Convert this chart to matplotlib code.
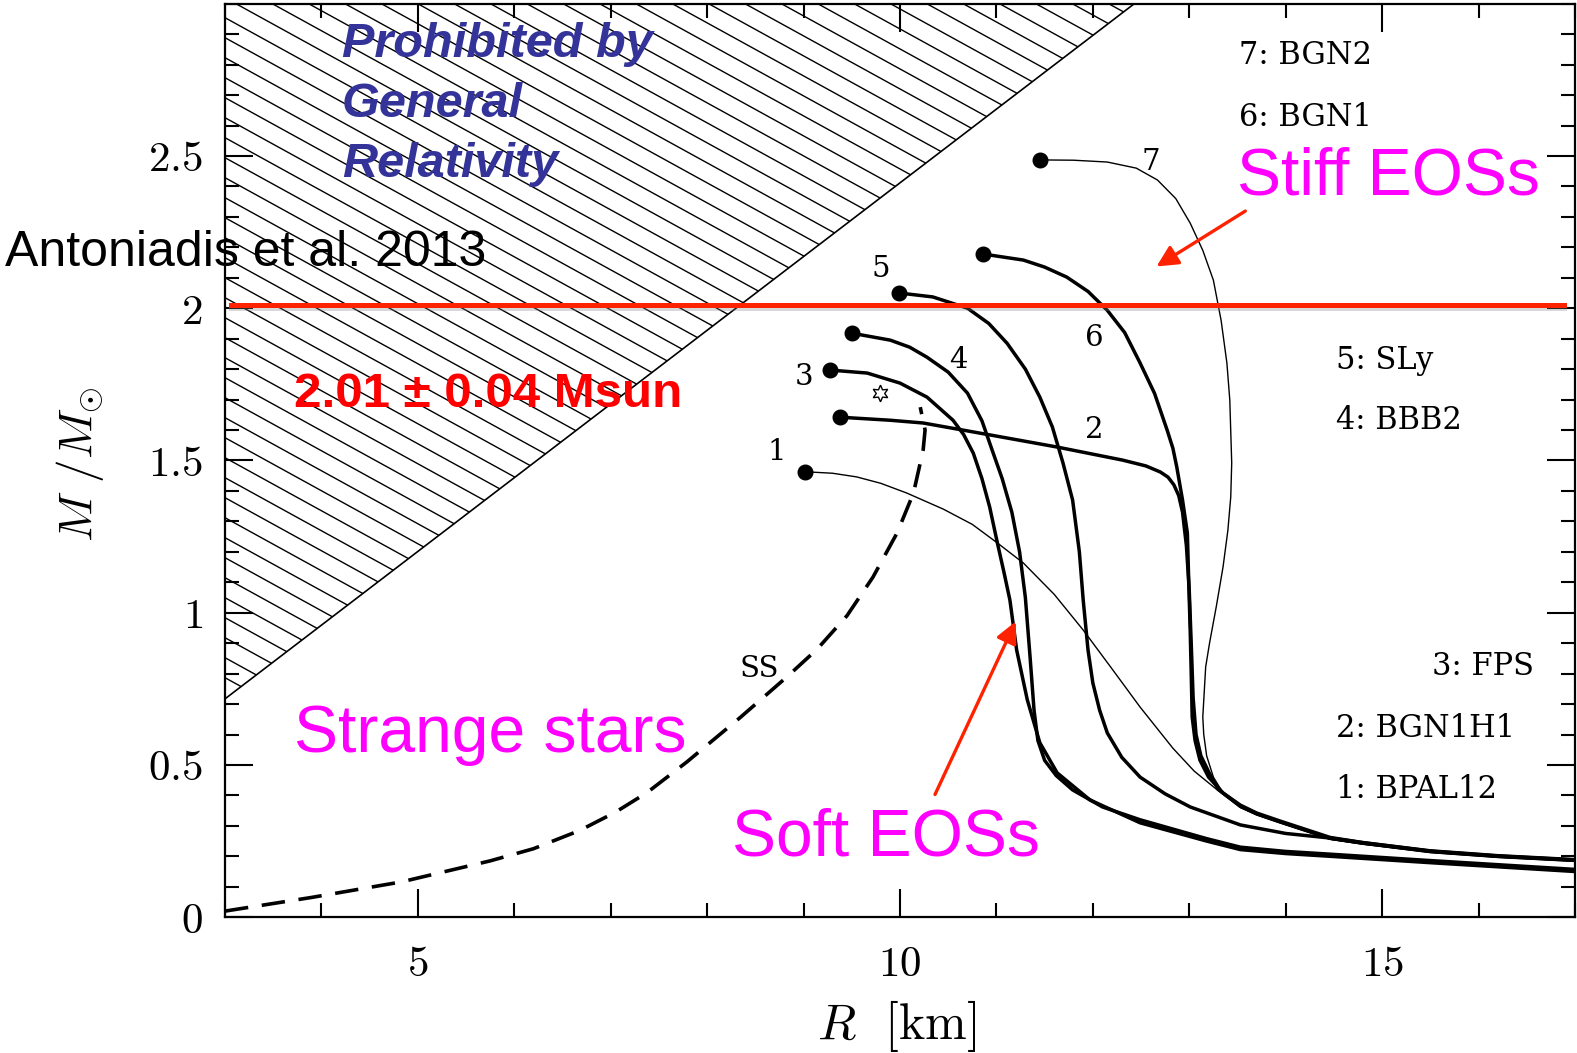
import numpy as np
import matplotlib
matplotlib.use("Agg")
import matplotlib.pyplot as plt
import matplotlib.patheffects as pe
from matplotlib.patches import Polygon
from matplotlib.ticker import MultipleLocator, FuncFormatter

plt.rcParams["mathtext.fontset"] = "cm"
plt.rcParams["font.family"] = ["Liberation Sans", "DejaVu Sans"]

# ---- mass-radius relations (R in km, M in solar masses) ----
R1 = [9.01, 9.30, 9.55, 9.80, 10.07, 10.45, 10.75, 11.01, 11.28, 11.60, 11.90, 12.20, 12.49, 12.83, 13.05, 13.29,
      13.53, 13.70, 13.94, 14.20, 14.46, 14.80, 15.50, 16.20, 17.0]
M1 = [1.463, 1.458, 1.446, 1.425, 1.393, 1.340, 1.290, 1.229, 1.163, 1.060, 0.943, 0.815, 0.690, 0.555, 0.480, 0.418,
      0.360, 0.336, 0.310, 0.283, 0.256, 0.240, 0.212, 0.196, 0.183]

R2 = [9.38, 9.90, 10.24, 10.93, 11.63, 12.31, 12.55, 12.70, 12.78, 12.84, 12.89, 12.93, 12.97, 13.00, 13.02, 13.04,
      13.07, 13.12, 13.20, 13.30, 13.53, 13.70, 13.94, 14.20, 14.46, 14.80, 15.50, 16.20, 17.0]
M2 = [1.642, 1.632, 1.623, 1.584, 1.544, 1.501, 1.482, 1.462, 1.445, 1.420, 1.385, 1.330, 1.220, 1.070, 0.900, 0.720,
      0.600, 0.530, 0.478, 0.420, 0.364, 0.339, 0.313, 0.286, 0.259, 0.243, 0.216, 0.200, 0.187]

R3 = [9.27, 9.66, 10.00, 10.28, 10.55, 10.66, 10.76, 10.85, 10.93, 11.01, 11.08, 11.14, 11.21, 11.32, 11.45, 11.63,
      11.97, 12.49, 13.18, 13.53, 14.00, 14.46, 15.50, 17.0]
M3 = [1.797, 1.787, 1.754, 1.708, 1.632, 1.585, 1.524, 1.440, 1.347, 1.229, 1.130, 1.041, 0.877, 0.714, 0.573, 0.474,
      0.385, 0.310, 0.250, 0.222, 0.209, 0.200, 0.179, 0.150]

R4 = [9.50, 9.90, 10.10, 10.28, 10.50, 10.70, 10.85, 10.96, 11.06, 11.16, 11.24, 11.30, 11.35, 11.39, 11.43, 11.50,
      11.62, 11.79, 12.10, 12.49, 13.18, 13.53, 14.00, 14.46, 15.50, 17.0]
M4 = [1.918, 1.895, 1.872, 1.839, 1.790, 1.721, 1.630, 1.530, 1.440, 1.330, 1.200, 1.050, 0.850, 0.680, 0.580, 0.515,
      0.465, 0.418, 0.362, 0.320, 0.258, 0.230, 0.216, 0.207, 0.186, 0.157]

R5 = [9.99, 10.34, 10.70, 10.92, 11.11, 11.30, 11.45, 11.58, 11.69, 11.79, 11.86, 11.90, 11.95, 12.00, 12.07, 12.15,
      12.30, 12.49, 12.75, 13.01, 13.53, 14.00, 14.46, 14.80, 15.50, 16.20, 17.0]
M5 = [2.050, 2.037, 2.000, 1.950, 1.885, 1.800, 1.708, 1.610, 1.492, 1.370, 1.200, 1.041, 0.877, 0.769, 0.680, 0.605,
      0.525, 0.460, 0.405, 0.362, 0.303, 0.275, 0.260, 0.245, 0.217, 0.201, 0.188]

R6 = [10.86, 11.28, 11.50, 11.73, 11.95, 12.15, 12.33, 12.49, 12.64, 12.77, 12.83, 12.87, 12.93, 12.98, 12.99, 13.01,
      13.02, 13.03, 13.06, 13.11, 13.20, 13.35, 13.53, 13.70, 13.94, 14.20, 14.46, 14.80, 15.50, 16.20, 17.0]
M6 = [2.178, 2.158, 2.135, 2.102, 2.055, 1.993, 1.920, 1.820, 1.720, 1.600, 1.540, 1.479, 1.370, 1.262, 1.150, 0.934,
      0.800, 0.657, 0.580, 0.516, 0.460, 0.408, 0.368, 0.342, 0.316, 0.289, 0.262, 0.245, 0.218, 0.202, 0.189]

R7 = [11.45, 11.80, 12.15, 12.45, 12.67, 12.86, 13.01, 13.14, 13.25, 13.33, 13.39, 13.42, 13.44, 13.43, 13.40, 13.35,
      13.28, 13.21, 13.17, 13.14, 13.15, 13.18, 13.25, 13.35, 13.53, 13.70, 13.94, 14.20, 14.46, 14.80, 15.50, 16.20, 17.0]
M7 = [2.487, 2.486, 2.480, 2.460, 2.421, 2.360, 2.279, 2.190, 2.092, 1.960, 1.820, 1.699, 1.492, 1.380, 1.270, 1.150,
      1.020, 0.900, 0.822, 0.657, 0.600, 0.530, 0.460, 0.408, 0.362, 0.337, 0.311, 0.284, 0.256, 0.240, 0.214, 0.198, 0.185]

# strange-star sequence
R_ss = [3.0, 3.9, 4.83, 5.75, 6.20, 6.68, 7.05, 7.38, 7.79, 8.34, 8.83, 9.14, 9.45, 9.72, 9.97, 10.14, 10.24, 10.26, 10.21]
M_ss = [0.02, 0.065, 0.116, 0.185, 0.225, 0.285, 0.345, 0.410, 0.510, 0.655, 0.790, 0.880, 0.990, 1.117, 1.262, 1.393,
        1.534, 1.600, 1.675]
star_R, star_M = 9.79, 1.722

# causality limit bounding the forbidden region
limit_R = [3.0, 12.43]
limit_M = [0.717, 3.0]

# measured pulsar mass
m_obs = 2.01

eos_names = ["7: BGN2", "6: BGN1", "5: SLy", "4: BBB2", "3: FPS", "2: BGN1H1", "1: BPAL12"]
eos_name_pos = [(13.516, 2.802), (13.516, 2.598), (14.517, 1.800), (14.517, 1.602),
                (15.517, 0.794), (14.517, 0.592), (14.517, 0.393)]

x_ticks = [5, 10, 15]
y_ticks = [0, 0.5, 1, 1.5, 2, 2.5]

# ---- figure ----
W, H = 1577, 1053
fig = plt.figure(figsize=(W / 100, H / 100), dpi=100)
ax = fig.add_axes([225 / W, 1 - 917.2 / H, 1350 / W, (917.2 - 3.7) / H])
ax.set_xlim(3, 17)
ax.set_ylim(0, 3)

# forbidden region with a custom oblique hatching
poly = Polygon([(limit_R[0], limit_M[0]), (limit_R[1], limit_M[1]), (3.0, 3.0)],
               closed=True, facecolor="none", edgecolor="none")
ax.add_patch(poly)
hatch_slope = -0.55 * (96.43 / 304.5)   # 0.55 px/px downward
hatch_step = 20.0 / 304.5
rr = np.array([3.0, 13.0])
for c in np.arange(3.0 + 0.3 * hatch_step - 40 * hatch_step, 4.8, hatch_step):
    ln, = ax.plot(rr, c + hatch_slope * (rr - 3.0), color="black", lw=1.0, zorder=1)
    ln.set_clip_path(poly)
ax.plot(limit_R, limit_M, color="black", lw=1.2, zorder=2)

# EOS curves
thick = dict(color="black", lw=2.5, solid_joinstyle="round", zorder=3)
thin = dict(color="black", lw=1.0, solid_joinstyle="round", zorder=3)
curves = [(R1, M1, thin), (R2, M2, thick), (R3, M3, thick), (R4, M4, thick),
          (R5, M5, thick), (R6, M6, thick), (R7, M7, thin)]
for R, M, st in curves:
    ax.plot(R, M, **st)
    ax.plot(R[0], M[0], "o", ms=10.5, color="black", zorder=4)

ax.plot(R_ss, M_ss, color="black", lw=2.6, linestyle=(0, (6.5, 3.8)), zorder=3)
ax.plot(star_R, star_M, marker=(6, 1, 0), ms=12, mfc="white", mec="black", mew=1.0, zorder=4)

# curve numbers
serif = ["DejaVu Serif"]
num_labels = [("7", 12.60, 2.454), ("5", 9.80, 2.101), ("6", 12.01, 1.876), ("4", 10.61, 1.804),
              ("3", 9.01, 1.748), ("2", 12.01, 1.573), ("1", 8.72, 1.500), ("SS", 8.54, 0.79)]
for s, x, y in num_labels:
    ax.text(x, y, s, family=serif, fontsize=21, ha="center", va="baseline", zorder=5)

for s, (x, y) in zip(eos_names, eos_name_pos):
    ax.text(x, y, s, family=serif, fontsize=22, ha="left", va="baseline", zorder=5)

# observed 2 Msun line
ax.axhline(m_obs, xmin=6 / 1350, xmax=1339 / 1350, color="#ff2200", lw=3.6, zorder=6,
           path_effects=[pe.SimpleLineShadow(offset=(0, -1.8), shadow_color="gray", alpha=0.3),
                         pe.Normal()])

# annotations
blue = "#333399"
for s, y in [("Prohibited by", 2.824), ("General", 2.629), ("Relativity", 2.431)]:
    ax.text(4.213, y, s, color=blue, fontsize=35, fontweight="bold", fontstyle="italic",
            ha="left", va="baseline", zorder=5)

ax.text(3.712, 1.675, "2.01 \u00b1 0.04 Msun", color="#ff0000", fontsize=35.5, fontweight="bold",
        ha="left", va="baseline", zorder=5)
fig.text(5 / W, 1 - 265.5 / H, "Antoniadis et al. 2013", color="black", fontsize=36,
         ha="left", va="baseline")

mag = "#ff00ff"
ax.text(13.495, 2.375, "Stiff EOSs", color=mag, fontsize=47.5, ha="left", va="baseline", zorder=5)
ax.text(3.712, 0.543, "Strange stars", color=mag, fontsize=47.5, ha="left", va="baseline", zorder=5)
ax.text(8.258, 0.202, "Soft EOSs", color=mag, fontsize=47.5, ha="left", va="baseline", zorder=5)

arrow = dict(arrowstyle="-|>", color="#ff2200", lw=2.4, mutation_scale=32, shrinkA=0, shrinkB=0)
ax.annotate("", xy=(12.66, 2.137), xytext=(13.581, 2.319), arrowprops=arrow, zorder=6)
ax.annotate("", xy=(11.20, 0.971), xytext=(10.363, 0.403), arrowprops=arrow, zorder=6)

# axes styling
for sp in ax.spines.values():
    sp.set_linewidth(1.6)
ax.xaxis.set_major_locator(MultipleLocator(5))
ax.xaxis.set_minor_locator(MultipleLocator(1))
ax.yaxis.set_major_locator(MultipleLocator(0.5))
ax.yaxis.set_minor_locator(MultipleLocator(0.1))
ax.set_xticks(x_ticks)
ax.set_yticks(y_ticks)
fmt = FuncFormatter(lambda v, p: f"${v:g}$")
ax.xaxis.set_major_formatter(fmt)
ax.yaxis.set_major_formatter(fmt)
ax.tick_params(which="both", direction="in", top=True, right=True, width=1.5)
ax.tick_params(which="major", length=20, labelsize=31)
ax.tick_params(which="minor", length=10)
ax.tick_params(axis="x", which="major", pad=20)
ax.tick_params(axis="y", which="major", pad=16)

fig.text(80.5 / W, 1 - 464.6 / H, r"$M\ /M_{\odot}$", fontsize=34, rotation=90,
         ha="center", va="center")
fig.text(897 / W, 1 - 1026 / H, r"$R\ \ [\mathrm{km}]$", fontsize=36, ha="center", va="center")

fig.savefig("out.png", dpi=100)
